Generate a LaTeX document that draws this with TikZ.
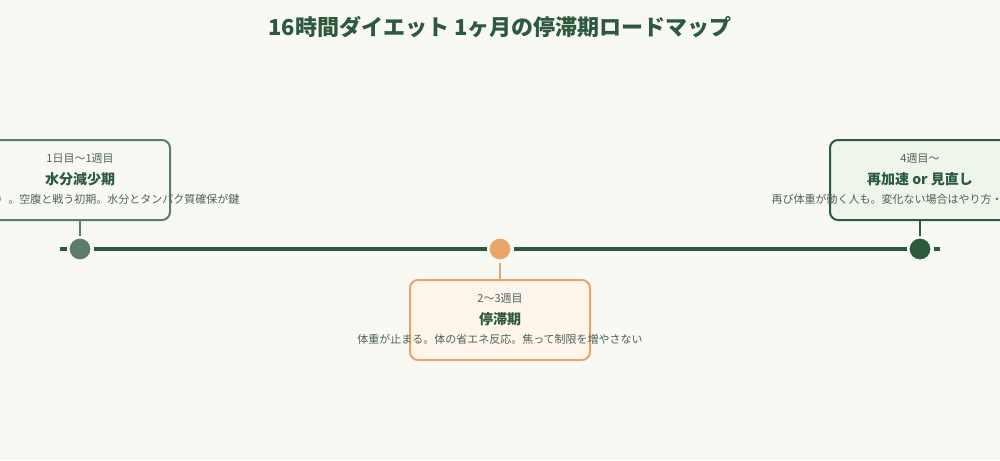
\documentclass[tikz,border=0pt]{standalone}
\usepackage{fontspec}
\setmainfont{Noto Sans CJK JP}
\usetikzlibrary{positioning}

\definecolor{fundo}{RGB}{249,249,244}
\definecolor{verde}{RGB}{45,90,61}
\definecolor{verdeclaro}{RGB}{92,124,104}
\definecolor{laranja}{RGB}{232,166,106}
\definecolor{cinza}{RGB}{80,98,86}

\begin{document}
\begin{tikzpicture}[x=1pt, y=-1pt,
    caixa/.style={draw, line width=2pt, rounded corners=8pt, minimum width=180pt, minimum height=80pt, inner sep=0pt},
    marco/.style={circle, draw=fundo, line width=3pt, minimum size=24pt, inner sep=0pt},
    etapa/.style={text=cinza, font=\fontsize{11}{13}\selectfont},
    titulo/.style={text=verde, font=\fontsize{14}{16}\selectfont\bfseries},
    descricao/.style={text=cinza, font=\fontsize{11}{13}\selectfont}
]
    % Fundo e recorte
    \fill[fundo] (0,0) rectangle (1000,460);
    \useasboundingbox (0,0) rectangle (1000,460);
    \clip (0,0) rectangle (1000,460);

    % Titulo
    \node[text=verde, font=\fontsize{22}{26}\selectfont\bfseries] (cabecalho) at (500,27) {16時間ダイエット 1ヶ月の停滞期ロードマップ};

    % Linha do tempo
    \coordinate (inicio) at (60,249);
    \coordinate (fim) at (940,249);
    \node[marco, fill=verdeclaro] (marco1) at (80,249) {};
    \node[marco, fill=laranja] (marco2) at (500,249) {};
    \node[marco, fill=verde] (marco3) at (920,249) {};
    \draw[verde, line width=4pt] (inicio) -- (marco1.west);
    \draw[verde, line width=4pt] (marco1.east) -- (marco2.west);
    \draw[verde, line width=4pt] (marco2.east) -- (marco3.west);
    \draw[verde, line width=4pt] (marco3.east) -- (fim);

    % Caixas
    \node[caixa, draw=verdeclaro, fill=fundo] (caixa1) at (80,180) {};
    \node[caixa, draw=laranja, fill={rgb,255:red,253;green,245;blue,236}] (caixa2) at (500,320) {};
    \node[caixa, draw=verde, fill={rgb,255:red,238;green,245;blue,234}] (caixa3) at (920,180) {};

    % Ligacoes
    \draw[verdeclaro, line width=2pt] (caixa1.south) -- (marco1.north);
    \draw[laranja, line width=2pt] (marco2.south) -- (caixa2.north);
    \draw[verde, line width=2pt] (caixa3.south) -- (marco3.north);

    % Textos da fase 1
    \node[etapa] (etapa1) at ([yshift=22pt]caixa1.center) {1日目〜1週目};
    \node[titulo] (titulo1) at ([yshift=1pt]caixa1.center) {水分減少期};
    \node[descricao] (desc1) at ([yshift=-19pt]caixa1.center) {急に減る（水分）。空腹と戦う初期。水分とタンパク質確保が鍵};

    % Textos da fase 2
    \node[etapa] (etapa2) at ([yshift=22pt]caixa2.center) {2〜3週目};
    \node[titulo] (titulo2) at ([yshift=1pt]caixa2.center) {停滞期};
    \node[descricao] (desc2) at ([yshift=-19pt]caixa2.center) {体重が止まる。体の省エネ反応。焦って制限を増やさない};

    % Textos da fase 3
    \node[etapa] (etapa3) at ([yshift=22pt]caixa3.center) {4週目〜};
    \node[titulo] (titulo3) at ([yshift=1pt]caixa3.center) {再加速 or 見直し};
    \node[descricao] (desc3) at ([yshift=-19pt]caixa3.center) {再び体重が動く人も。変化ない場合はやり方・食事を見直す};

\end{tikzpicture}
\end{document}
